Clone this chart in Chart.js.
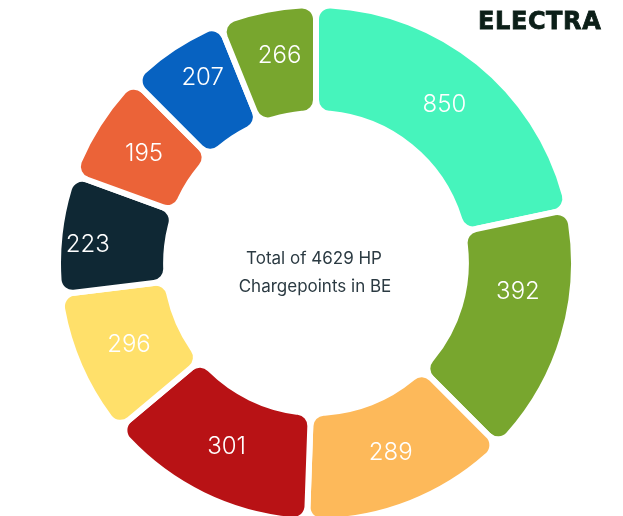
<!DOCTYPE html>
<html>
<head>
<meta charset="utf-8">
<title>HP Chargepoints in BE</title>
<script src="https://cdn.jsdelivr.net/npm/chart.js@4"></script>
<style>
    html, body { margin: 0; padding: 0; width: 623px; height: 516px; overflow: hidden; background: #fff; }
    #wrap { position: absolute; left: 55px; top: 2px; width: 522px; height: 522px; }
    #logo { position: absolute; left: 478px; top: 9px; z-index: 2; font: bold 24px "DejaVu Sans"; line-height: 24px; letter-spacing: 0.6px; color: #0c1f18; -webkit-text-stroke: 0.8px #0c1f18; }
</style>
</head>
<body>
<div id="wrap"><canvas id="ringChart"></canvas></div>
<div id="logo">ELECTRA</div>
<script>
// Numbers printed in the segments (clockwise from the top)
const counts = [850, 392, 289, 301, 296, 223, 195, 207, 266];
// Arc size of each segment as drawn in the picture (degrees;
// the infographic does not draw them in proportion to the counts)
const arcDegrees = [78, 57, 47, 48, 33, 27, 25, 23, 22];
const segmentColors = ['#46f4bc', '#78a62e', '#fdb95a', '#b81215', '#ffe06a', '#0f2834', '#eb6338', '#0762c1', '#78a62e'];
const centerLines = ['Total of 4629 HP', 'Chargepoints in BE'];
// small label nudges [degrees, px] where the picture does not sit the number mid-segment
const labelNudge = [[0, 0], [-8.5, 0], [0, 0], [0, 0], [0, 0], [-2, 25], [0, 0], [2, 13], [1, 6]];

// Segment numbers and the text in the hole
const ringLabels = {
    id: 'ringLabels',
    afterDatasetsDraw(chart) {
        const ctx = chart.ctx;
        const arcs = chart.getDatasetMeta(0).data;
        ctx.save();
        ctx.textAlign = 'center';
        ctx.textBaseline = 'middle';
        ctx.fillStyle = '#ffffff';
        ctx.font = '300 24px Inter';
        arcs.forEach((arc, i) => {
            const mid = (arc.startAngle + arc.endAngle) / 2 + labelNudge[i][0] * Math.PI / 180;
            const r = (arc.innerRadius + arc.outerRadius) / 2 + labelNudge[i][1];
            ctx.fillText(String(counts[i]), arc.x + Math.cos(mid) * r, arc.y + Math.sin(mid) * r);
        });
        const cx = arcs[0].x;
        const cy = arcs[0].y;
        ctx.fillStyle = '#2b3a42';
        ctx.font = '17px Inter';
        ctx.fillText(centerLines[0], cx - 2, cy - 4);
        ctx.fillText(centerLines[1], cx - 1, cy + 24);
        ctx.restore();
    }
};

const ctx = document.getElementById('ringChart').getContext('2d');
new Chart(ctx, {
    type: 'doughnut',
    data: {
        labels: counts.map(String),
        datasets: [{
            data: arcDegrees,
            backgroundColor: segmentColors,
            borderColor: '#ffffff',
            borderWidth: 6,
            borderRadius: 14
        }]
    },
    options: {
        responsive: true,
        maintainAspectRatio: false,
        animation: false,
        cutout: '58.1%',
        plugins: {
            legend: { display: false },
            tooltip: { enabled: false }
        }
    },
    plugins: [ringLabels]
});
</script>
</body>
</html>
